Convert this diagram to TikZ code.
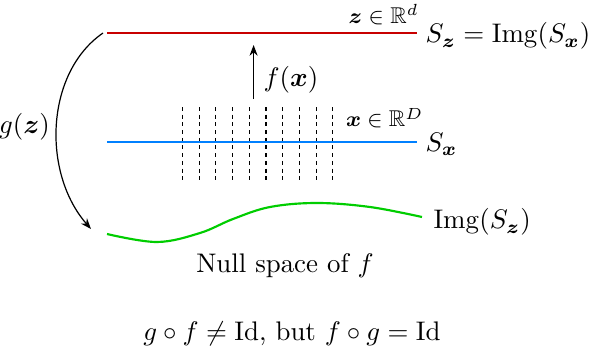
\documentclass[tikz,border=0pt]{standalone}
\usepackage{amsmath,amssymb,bm}
\usetikzlibrary{arrows.meta}
\definecolor{redline}{RGB}{200,0,0}
\definecolor{blueline}{RGB}{0,128,255}
\definecolor{greenline}{RGB}{0,205,0}
\tikzset{
  space/.style={line width=0.8pt},
  conn/.style={line width=0.45pt,-{Stealth[length=4pt,width=3pt]}},
  nullline/.style={line width=0.4pt,dash pattern=on 1.5pt off 1.36pt},
  lbl/.style={inner sep=0pt,font=\fontsize{8.5}{10}\selectfont},
  txt/.style={inner sep=0pt}
}
\begin{document}
\begin{tikzpicture}[x=0.372pt,y=-0.372pt]
\useasboundingbox (0,0) rectangle (592,348);
% lines
\coordinate (r1) at (107,33);  \coordinate (r2) at (417,33);
\coordinate (b1) at (107,142); \coordinate (b2) at (417,142);
\foreach \i in {0,...,9}{
  \coordinate (d\i t) at ({182.5+16.7*\i},107);
  \coordinate (d\i b) at ({182.5+16.7*\i},180);
  \draw[nullline] (d\i t) -- (d\i b);
}
\draw[space,redline] (r1) -- (r2);
\draw[space,blueline] (b1) -- (b2);
\draw[space,greenline] plot[smooth,tension=0.6] coordinates {(107,234) (157,242) (200,233) (233,219) (270,207) (317,203) (370,207) (422,217)};
% labels
\node[lbl,anchor=base east] (zlab) at (419,23) {$\bm{z}\in\mathbb{R}^d$};
\node[txt,anchor=base west] (Sz) at (425,43) {$S_{\bm{z}}=\mathrm{Img}(S_{\bm{x}})$};
\node[lbl,anchor=base east] (xlab) at (424,127) {$\bm{x}\in\mathbb{R}^D$};
\node[txt,anchor=base west] (Sx) at (425,151) {$S_{\bm{x}}$};
\node[txt,anchor=base west] (ImgSz) at (433,229) {$\mathrm{Img}(S_{\bm{z}})$};
\node[txt,anchor=base] (null) at (285,273) {Null space of $f$};
\node[txt,anchor=base] (idn) at (292,340) {$g\circ f\neq \mathrm{Id}$, but $f\circ g=\mathrm{Id}$};
% f arrow
\coordinate (fa) at (253.6,99); \coordinate (fb) at (253.6,45);
\draw[conn] (fa) -- (fb);
\node[txt,anchor=west] (flab) at (263,80) {$f(\bm{x})$};
% g arrow
\coordinate (ga) at (103,33); \coordinate (gb) at (91,229);
\draw[conn] (ga) .. controls (45,73) and (42,173) .. (gb);
\node[txt] (glab) at (24.5,127) {$g(\bm{z})$};
\end{tikzpicture}
\end{document}
